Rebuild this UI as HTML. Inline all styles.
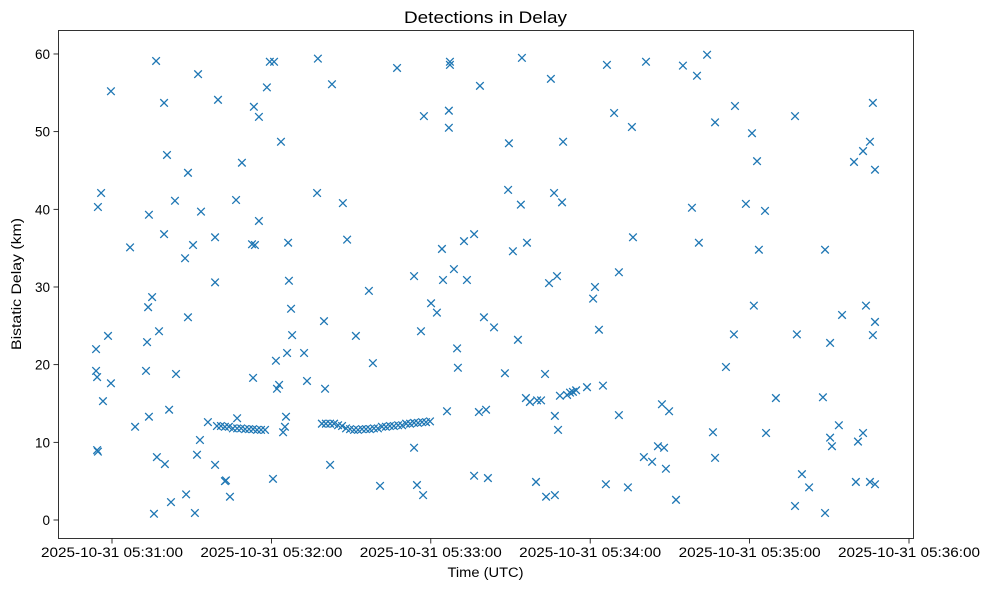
<!DOCTYPE html>
<html><head><meta charset="utf-8"><style>
body{margin:0;background:#fff;font-family:"Liberation Sans",sans-serif;}
svg text{font-family:"Liberation Sans",sans-serif;fill:#000;}
</style></head><body>
<svg id="chart" width="989" height="590" viewBox="0 0 989 590" xmlns="http://www.w3.org/2000/svg">
<rect width="989" height="590" fill="#fff"/>
<text x="485.5" y="23" font-size="16.5" text-anchor="middle" textLength="163" lengthAdjust="spacingAndGlyphs">Detections in Delay</text>
<text x="485.5" y="577" font-size="13.5" text-anchor="middle" textLength="76" lengthAdjust="spacingAndGlyphs">Time (UTC)</text>
<text x="21" y="284" font-size="13.5" text-anchor="middle" transform="rotate(-90 21 284)" textLength="132" lengthAdjust="spacingAndGlyphs">Bistatic Delay (km)</text>
<g id="ticks"></g>
<g id="marks"></g>
<rect x="58.5" y="30.5" width="855" height="508" fill="none" stroke="#000" stroke-width="0.8"/>
</svg>
<script>
// seconds after 05:31:00 UTC, bistatic delay in km
const scatterTimes=[-6.0,-6.0,-5.6,-5.3,-5.6,-5.3,-4.1,-3.4,-1.5,-0.4,-0.4,6.8,8.7,12.8,13.2,13.6,13.9,13.9,15.1,15.8,16.6,16.9,17.7,19.6,19.9,19.6,20.7,21.5,22.2,23.7,24.1,27.5,27.9,28.6,28.6,30.5,31.2,32.0,32.4,33.1,33.5,36.1,38.8,38.8,38.8,39.9,42.5,42.9,44.4,47.1,46.7,48.9,52.7,53.1,53.4,53.8,55.3,55.3,58.3,59.4,61.0,60.6,61.7,62.1,62.9,63.6,64.4,65.1,65.5,65.9,66.3,66.6,67.4,67.8,72.3,73.4,77.2,77.5,79.8,80.2,82.1,82.8,86.9,88.5,91.8,96.7,98.2,100.9,107.3,113.7,113.7,114.8,116.3,117.1,117.4,120.1,122.3,124.2,124.6,126.1,126.8,126.8,127.2,127.2,128.7,129.9,130.2,132.5,133.6,136.3,136.3,138.1,138.5,140.0,140.8,141.5,143.8,147.9,149.1,149.4,150.9,152.8,153.9,154.3,155.8,156.2,157.3,159.6,160.0,161.5,163.0,163.4,164.5,165.2,166.4,166.7,166.7,167.5,167.9,168.6,169.4,169.8,171.3,172.4,173.5,174.7,178.8,181.1,181.8,183.3,184.8,185.9,186.3,189.0,190.8,190.8,194.2,195.7,196.1,200.2,201.0,203.3,205.5,207.0,207.8,208.5,209.7,212.3,214.9,218.3,220.2,220.9,224.0,226.2,227.0,227.0,231.1,234.1,234.5,238.6,240.9,241.6,242.8,243.5,245.8,246.2,249.9,286.4,257.1,285.3,282.7,279.3,287.2,268.4,283.8,274.8,287.2,257.8,286.4,270.3,267.6,273.6,270.3,282.7,271.0,280.8,259.7,262.4,280.0,285.3,287.2,257.1,268.4];
const scatterDelays=[22.0,19.2,18.4,40.3,9.0,8.8,42.1,15.3,23.7,55.2,17.6,35.1,12.0,19.2,22.9,27.4,39.3,13.3,28.7,0.8,59.1,8.1,24.3,53.7,7.2,36.8,47.0,14.2,2.3,41.1,18.8,33.7,3.3,44.7,26.1,35.4,0.9,8.4,57.4,10.3,39.7,12.6,7.1,36.4,30.6,54.1,5.0,5.1,3.0,13.1,41.2,46.0,35.5,18.3,53.2,35.4,51.9,38.5,55.7,59.0,59.0,5.3,20.5,16.9,17.4,48.7,11.3,12.0,13.3,21.5,35.7,30.8,27.2,23.8,21.5,17.9,42.1,59.4,25.6,16.9,7.1,56.1,40.8,36.1,23.7,29.5,20.2,4.4,58.2,31.4,9.3,4.5,24.3,3.2,52.0,27.9,26.7,34.9,30.9,14.0,52.7,50.5,59.0,58.6,32.3,22.1,19.6,35.9,30.9,36.8,5.7,13.9,55.9,26.1,14.2,5.4,24.8,18.9,42.5,48.5,34.6,23.2,40.6,59.5,15.7,35.7,15.2,4.9,15.4,15.4,18.8,3.0,30.5,56.8,42.1,3.2,13.4,31.4,11.6,16.0,40.9,48.7,16.1,16.4,16.5,16.7,17.1,28.5,30.0,24.5,17.3,4.6,58.6,52.4,31.9,13.5,4.2,50.6,36.4,8.1,59.0,7.5,9.5,14.9,9.3,6.6,14.0,2.6,58.5,40.2,57.2,35.7,59.9,11.3,8.0,51.2,19.7,23.9,53.3,40.7,49.8,27.6,46.2,34.8,39.8,11.2,15.7,53.7,52.0,48.7,47.5,46.1,45.1,34.8,27.6,26.4,25.5,23.9,23.8,22.8,15.8,12.2,10.6,11.2,9.5,10.1,5.9,4.2,4.9,4.9,4.6,1.8,0.9];
const trackATimes=[39.5,41.0,42.5,44.0,45.5,47.1,48.6,50.1,51.6,53.1,54.6,56.1,57.6];
const trackADelays=[12.1,12.1,12.0,12.0,11.8,11.8,11.8,11.7,11.7,11.7,11.6,11.6,11.6];
const trackBTimes=[79.0,80.5,82.1,83.6,85.1,86.6,88.1,89.6,91.1,92.6,94.1,95.6,97.1,98.6,100.1,101.6,103.1,104.6,106.1,107.7,109.2,110.7,112.2,113.7,115.2,116.7,118.2,119.7];
const trackBDelays=[12.4,12.4,12.4,12.4,12.2,12.1,11.8,11.7,11.6,11.6,11.7,11.7,11.7,11.8,11.8,12.0,12.0,12.1,12.1,12.2,12.2,12.4,12.4,12.5,12.5,12.6,12.6,12.7];
const xTickSeconds=[0,60,120,180,240,300];
const xTickLabels=["2025-10-31 05:31:00","2025-10-31 05:32:00","2025-10-31 05:33:00","2025-10-31 05:34:00","2025-10-31 05:35:00","2025-10-31 05:36:00"];
const yTickValues=[0,10,20,30,40,50,60];

const NS="http://www.w3.org/2000/svg";
function xScale(t){return 112+t*159.4/60;}
function yScale(k){return 520-k*7.767;}
const ticks=document.getElementById('ticks');
const marks=document.getElementById('marks');
function mk(tag,attrs,parent){const e=document.createElementNS(NS,tag);for(const k in attrs)e.setAttribute(k,attrs[k]);parent.appendChild(e);return e;}
xTickSeconds.forEach((s,i)=>{
  const x=xScale(s);
  const l=mk('line',{x1:x,x2:x,y1:538.5,y2:543.5,stroke:'#000','stroke-width':0.8},ticks);
  
  
  const t=mk('text',{x:x,y:557,'font-size':13.5,'text-anchor':'middle',textLength:142,lengthAdjust:'spacingAndGlyphs'},ticks);
  t.textContent=xTickLabels[i];
  
  
});
yTickValues.forEach(v=>{
  const y=yScale(v);
  const l=mk('line',{x1:53.5,x2:58.5,y1:y,y2:y,stroke:'#000','stroke-width':0.8},ticks);
  
  
  const t=mk('text',{x:50,y:y+5,'font-size':13.5,'text-anchor':'end'},ticks);
  t.textContent=String(v);
  
  
});
function drawX(t,k){
  const x=xScale(t),y=yScale(k),r=3.8;
  const p=mk('path',{d:`M${x-r},${y-r}L${x+r},${y+r}M${x-r},${y+r}L${x+r},${y-r}`,stroke:'#1f77b4','stroke-width':1.3,fill:'none'},marks);
  
  
}
scatterTimes.forEach((t,i)=>drawX(t,scatterDelays[i]));
trackATimes.forEach((t,i)=>drawX(t,trackADelays[i]));
trackBTimes.forEach((t,i)=>drawX(t,trackBDelays[i]));
</script>
</body></html>
